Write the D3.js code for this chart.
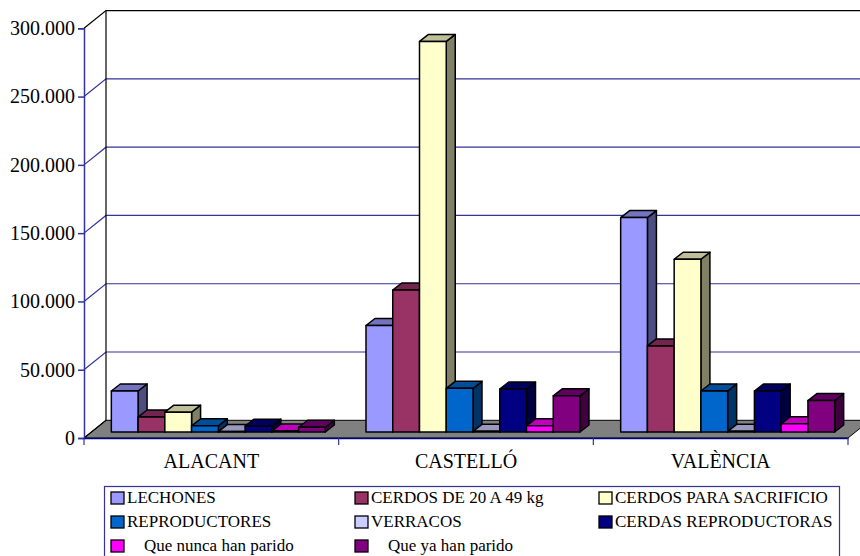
<!DOCTYPE html>
<html>
<head>
<meta charset="utf-8">
<script src="https://cdn.jsdelivr.net/npm/d3@7"></script>
<style>
  html, body { margin: 0; padding: 0; background: #fff; overflow: hidden; }
  text { font-family: "Liberation Serif", serif; fill: #000; white-space: pre; }
</style>
</head>
<body>
<div id="graph"></div>
<script>
var categories = ["ALACANT", "CASTELLÓ", "VALÈNCIA"];
var seriesNames = ["LECHONES", "CERDOS DE 20 A 49 kg", "CERDOS PARA SACRIFICIO", "REPRODUCTORES", "VERRACOS",
    "CERDAS REPRODUCTORAS", "    Que nunca han parido", "    Que ya han parido"];
var seriesColors = ["#9999ff", "#993366", "#ffffcc", "#0066cc", "#ccccff", "#000080", "#ff00ff", "#800080"];
var lechones = [30000, 78000, 157000];
var cerdos2049 = [11000, 104000, 63000];
var sacrificio = [14500, 286000, 126500];
var reproductores = [4500, 32000, 30000];
var verracos = [300, 500, 500];
var cerdasRepro = [4300, 31500, 30000];
var nuncaParido = [700, 4500, 6000];
var yaParido = [3500, 26500, 23000];
var allValues = [lechones, cerdos2049, sacrificio, reproductores, verracos, cerdasRepro, nuncaParido, yaParido];
var yTicks = [0, 50000, 100000, 150000, 200000, 250000, 300000];

var width = 860, height = 556;
var wallDx = 22, wallDy = -17.7;   // front plane to back wall
var barDx = 9, barDy = -7;         // depth of each bar
var baseDx = 7, baseDy = -6;       // bars stand a little behind the front edge

var svg = d3.select("#graph").append("svg")
    .attr("width", width)
    .attr("height", height)
    .style("display", "block");

var x0 = d3.scaleBand().domain(categories).range([84, 848]);
var y = d3.scaleLinear().domain([0, 300000]).range([438, 28.3]);
var x1 = d3.scaleBand().domain(seriesNames).range([0, 214]);
var groupStart = function(c) { return x0(c) + (x0.bandwidth() - 214) / 2 + baseDx; };

var fmt = function(d) { return d3.format(",")(d).replace(/,/g, "."); };
var shade = function(c, k) {
    var r = d3.rgb(c);
    return d3.rgb(r.r * k, r.g * k, r.b * k).formatHex();
};
var pts = function(a) { return a.map(function(p) { return p.join(","); }).join(" "); };

// floor
svg.append("polygon")
    .attr("points", pts([
        [x0.range()[0], y(0)],
        [x0.range()[0] + wallDx, y(0) + wallDy],
        [x0.range()[1] + wallDx, y(0) + wallDy],
        [x0.range()[1], y(0)]
    ]))
    .attr("fill", "#808080")
    .attr("stroke", "#000")
    .attr("stroke-width", 1);

// gridlines on the back wall and the side wall
var grid = svg.append("g");
yTicks.forEach(function(t) {
    if (t === 0) return;
    var col = t === 300000 ? "#000" : "#333399";
    grid.append("path")
        .attr("d", "M" + x0.range()[0] + "," + y(t) + "L" + (x0.range()[0] + wallDx) + "," + (y(t) + wallDy) + "H" + (width + 2))
        .attr("fill", "none")
        .attr("stroke", col)
        .attr("stroke-width", 1.2);
});
grid.append("line")
    .attr("x1", x0.range()[0] + wallDx).attr("x2", x0.range()[0] + wallDx)
    .attr("y1", y(300000) + wallDy).attr("y2", y(0) + wallDy)
    .attr("stroke", "#000").attr("stroke-width", 1.2);
grid.append("line")
    .attr("x1", x0.range()[0]).attr("x2", x0.range()[0] + wallDx)
    .attr("y1", y(0)).attr("y2", y(0) + wallDy)
    .attr("stroke", "#000").attr("stroke-width", 1.2);

// bars, left to right so each one covers the side of the one before
var bars = [];
categories.forEach(function(c, ci) {
    seriesNames.forEach(function(s, si) {
        bars.push({ cat: c, name: s, color: seriesColors[si], value: allValues[si][ci] });
    });
});

var bar = svg.selectAll(".bar")
    .data(bars)
    .enter()
    .append("g")
    .attr("class", "bar")
    .attr("stroke", "#000")
    .attr("stroke-width", 1.5)
    .attr("stroke-linejoin", "round");

bar.append("title").text(function(d) { return d.cat + " " + d.name.trim() + ": " + fmt(d.value); });

function corners(d) {
    var l = groupStart(d.cat) + x1(d.name);
    return { l: l, r: l + x1.bandwidth(), t: y(d.value) + baseDy, b: y(0) + baseDy };
}

bar.append("polygon")
    .attr("points", function(d) {
        var c = corners(d);
        return pts([[c.r, c.t], [c.r + barDx, c.t + barDy], [c.r + barDx, c.b + barDy], [c.r, c.b]]);
    })
    .attr("fill", function(d) { return shade(d.color, 0.5); });

bar.append("polygon")
    .attr("points", function(d) {
        var c = corners(d);
        return pts([[c.l, c.t], [c.l + barDx, c.t + barDy], [c.r + barDx, c.t + barDy], [c.r, c.t]]);
    })
    .attr("fill", function(d) { return shade(d.color, 0.75); });

bar.append("rect")
    .attr("x", function(d) { return corners(d).l; })
    .attr("y", function(d) { return corners(d).t; })
    .attr("width", x1.bandwidth())
    .attr("height", function(d) { var c = corners(d); return c.b - c.t; })
    .attr("fill", function(d) { return d.color; });

// axes
var yAxis = d3.axisLeft(y).tickValues(yTicks).tickFormat(fmt).tickSize(6).tickPadding(3);
var yG = svg.append("g").attr("transform", "translate(" + x0.range()[0] + ",0)").call(yAxis);
yG.selectAll("text").style("font-size", "20px").attr("font-family", null);
yG.selectAll("line,path").attr("stroke", "#333399").attr("stroke-width", 1.5);

var xAxis = d3.axisBottom(x0).tickSize(0).tickPadding(16);
var xG = svg.append("g").attr("transform", "translate(0," + y(0) + ")").call(xAxis);
xG.select(".domain").attr("stroke", "#000080").attr("stroke-width", 1.5);
xG.selectAll("text").style("font-size", "20px").attr("font-family", null);
xG.selectAll(".sep")
    .data(d3.range(categories.length + 1))
    .enter()
    .append("line")
    .attr("class", "sep")
    .attr("x1", function(i) { return x0.range()[0] + i * x0.bandwidth(); })
    .attr("x2", function(i) { return x0.range()[0] + i * x0.bandwidth(); })
    .attr("y1", 0).attr("y2", 7)
    .attr("stroke", "#333399").attr("stroke-width", 1.2);

// legend
var legendCols = [111, 355, 599];
var legendRows = [498, 522, 546];
svg.append("rect")
    .attr("x", 104.5).attr("y", 486.5)
    .attr("width", 735).attr("height", 80)
    .attr("fill", "#fff")
    .attr("stroke", "#333399")
    .attr("stroke-width", 1.2);

var item = svg.selectAll(".legend-item")
    .data(seriesNames)
    .enter()
    .append("g")
    .attr("class", "legend-item")
    .attr("transform", function(d, i) {
        return "translate(" + legendCols[i % 3] + "," + legendRows[Math.floor(i / 3)] + ")";
    });

item.append("rect")
    .attr("x", 0).attr("y", -6)
    .attr("width", 13).attr("height", 12)
    .attr("fill", function(d, i) { return seriesColors[i]; })
    .attr("stroke", "#000")
    .attr("stroke-width", 1.3);

item.append("text")
    .attr("x", 16)
    .attr("y", 5)
    .style("font-size", "17px")
    .text(function(d) { return d; });
</script>
</body>
</html>
